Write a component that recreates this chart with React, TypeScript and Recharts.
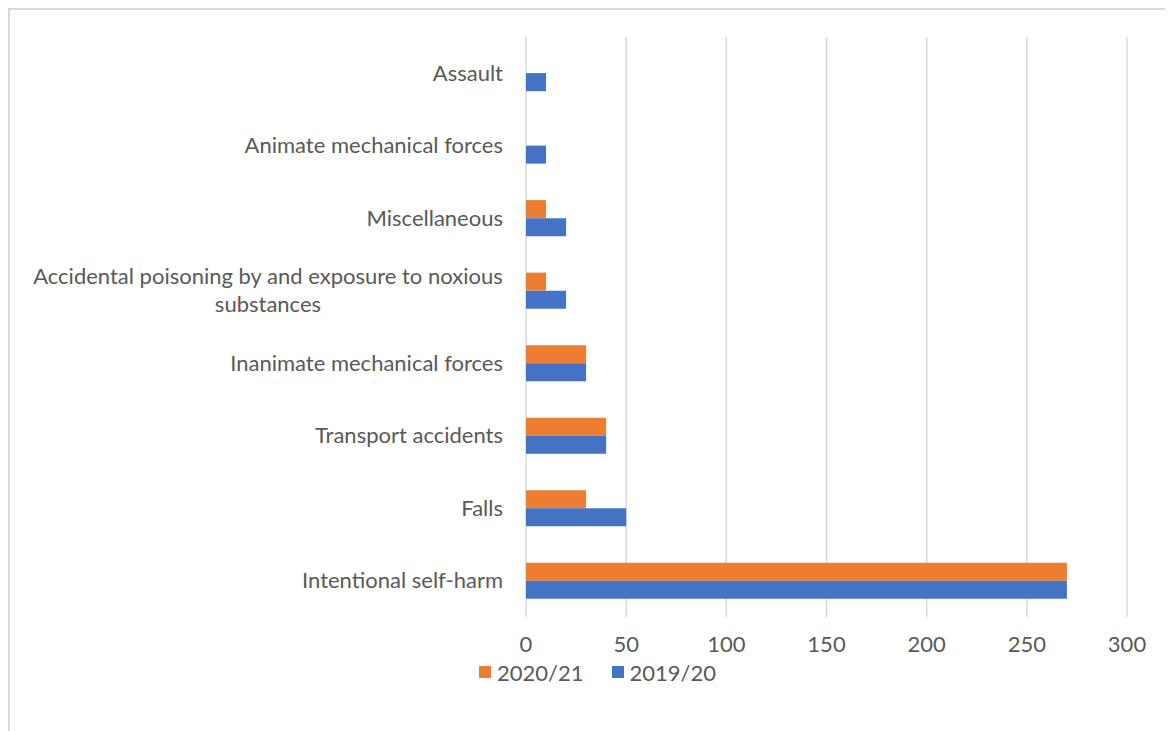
import { BarChart, Bar, XAxis, YAxis, CartesianGrid, Legend } from "recharts";

// top-to-bottom order as drawn
const categories = [
  "Assault",
  "Animate mechanical forces",
  "Miscellaneous",
  "Accidental poisoning by and exposure to noxious substances",
  "Inanimate mechanical forces",
  "Transport accidents",
  "Falls",
  "Intentional self-harm",
];
const values2021 = [0, 0, 10, 10, 30, 40, 30, 270];
const values1920 = [10, 10, 20, 20, 30, 40, 50, 270];
const xTicks = [0, 50, 100, 150, 200, 250, 300];

const series = [
  { key: "y2021", name: "2020/21", color: "#ED7D31" },
  { key: "y1920", name: "2019/20", color: "#4472C4" },
];

const data = categories.map((name, i) => ({
  name,
  y2021: values2021[i],
  y1920: values1920[i],
}));

const FONT = "Lato, 'Liberation Sans', sans-serif";
const TEXT = "#595959";
const FS = 22;

let ctx: CanvasRenderingContext2D | null = null;
function measure(s: string) {
  if (!ctx) ctx = document.createElement("canvas").getContext("2d");
  if (!ctx) return s.length * 10.5;
  ctx.font = `${FS}px ${FONT}`;
  return ctx.measureText(s).width;
}

// wrap long labels like Excel does: lines centred on each other, right aligned block
function wrap(label: string, maxW: number) {
  const words = label.split(" ");
  const lines: string[] = [];
  let cur = "";
  for (const w of words) {
    const t = cur ? cur + " " + w : w;
    if (measure(t) > maxW && cur) {
      lines.push(cur);
      cur = w;
    } else cur = t;
  }
  if (cur) lines.push(cur);
  return lines;
}

const CategoryTick = (props: any) => {
  const { x, y, payload } = props;
  const lines = wrap(payload.value, 490);
  const blockW = Math.max(...lines.map(measure));
  const cx = x - blockW / 2;
  const lh = 28;
  const y0 = y - ((lines.length - 1) * lh) / 2;
  return (
    <g>
      {lines.map((l, i) => (
        <text
          key={i}
          x={lines.length > 1 ? cx : x}
          y={y0 + i * lh}
          dy="0.35em"
          textAnchor={lines.length > 1 ? "middle" : "end"}
          fill={TEXT}
          fontSize={FS}
          fontFamily={FONT}
        >
          {l}
        </text>
      ))}
    </g>
  );
};

const LegendContent = () => (
  <div
    style={{
      height: 30,
      display: "flex",
      justifyContent: "center",
      alignItems: "center",
      fontFamily: FONT,
      fontSize: FS,
      color: TEXT,
      paddingLeft: 58,
    }}
  >
    {series.map((s, i) => (
      <div key={s.key} style={{ display: "flex", alignItems: "center", marginLeft: i ? 28 : 0 }}>
        <span style={{ width: 12, height: 12, background: s.color, marginRight: 6, display: "inline-block" }} />
        {s.name}
      </div>
    ))}
  </div>
);

export default function App() {
  return (
    <div
      style={{
        width: 1165,
        height: 723,
        borderLeft: "2px solid #d9d9d9",
        borderTop: "2px solid #d9d9d9",
        background: "#fff",
      }}
    >
      <BarChart
        width={1163}
        height={721}
        data={data}
        layout="vertical"
        margin={{ top: 27, right: 46, bottom: 44, left: 0 }}
        barCategoryGap="25%"
        barGap={0}
      >
        <CartesianGrid horizontal={false} stroke="#d9d9d9" strokeWidth={1.5} />
        <XAxis
          type="number"
          domain={[0, 300]}
          ticks={xTicks}
          axisLine={false}
          tickLine={false}
          tickSize={0}
          tickMargin={19}
          height={40}
          tick={{ fill: TEXT, fontSize: FS, fontFamily: FONT }}
        />
        <YAxis
          type="category"
          dataKey="name"
          width={516}
          axisLine={false}
          tickLine={false}
          tickSize={0}
          tickMargin={23}
          tick={<CategoryTick />}
          interval={0}
        />
        <Legend verticalAlign="bottom" content={<LegendContent />} />
        {series.map((s) => (
          <Bar key={s.key} dataKey={s.key} name={s.name} fill={s.color} isAnimationActive={false} />
        ))}
      </BarChart>
    </div>
  );
}
